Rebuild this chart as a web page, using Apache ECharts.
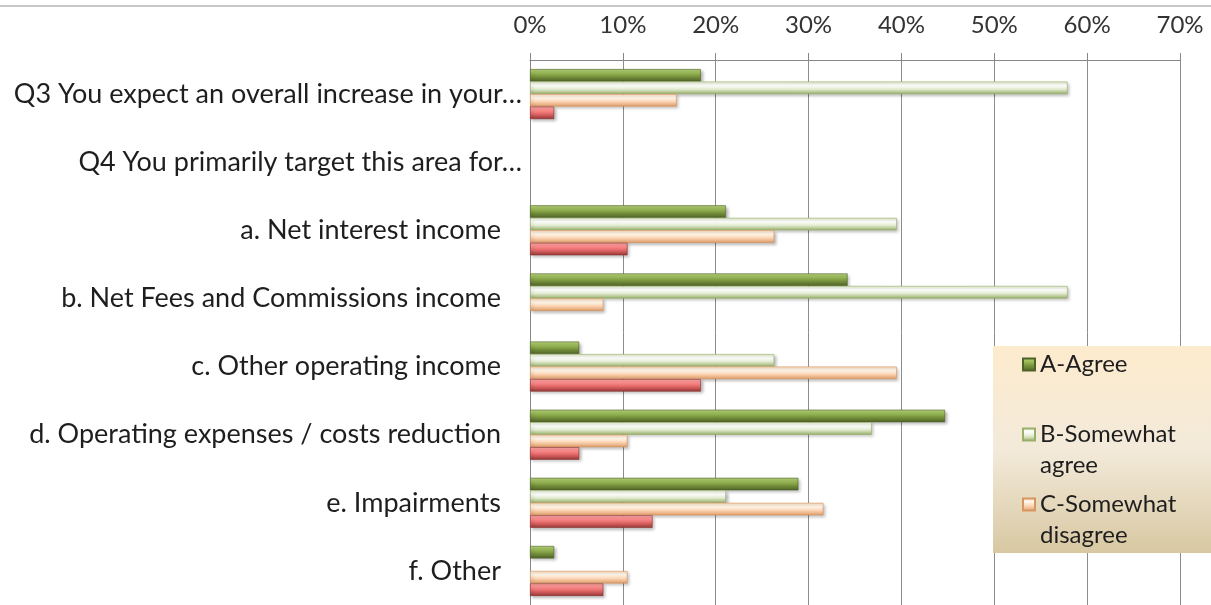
<!DOCTYPE html>
<html lang="en">
<head>
<meta charset="UTF-8">
<title>Survey chart</title>
<script src="https://cdn.jsdelivr.net/npm/echarts@6/dist/echarts.min.js"></script>
<style>
  html, body { margin: 0; padding: 0; background: #fff; }
  #chart { width: 1211px; height: 605px; }
</style>
</head>
<body>
<div id="chart"></div>
<script>
// categories, top to bottom
const categories = [
	'Q3 You expect an overall increase in your…',
	'Q4 You primarily target this area for…',
	'a. Net interest income',
	'b. Net Fees and Commissions income',
	'c. Other operating income',
	'd. Operating expenses / costs reduction',
	'e. Impairments',
	'f. Other'
]
const seriesNames = ['A-Agree', 'B-Somewhat agree', 'C-Somewhat disagree', 'D-Disagree']
// values in %
const agree = [18.4, null, 21.1, 34.2, 5.3, 44.7, 28.9, 2.6]
const somewhatAgree = [57.9, null, 39.5, 57.9, 26.3, 36.8, 21.1, null]
const somewhatDisagree = [15.8, null, 26.3, 7.9, 39.5, 10.5, 31.6, 10.5]
const disagree = [2.6, null, 10.5, null, 18.4, 5.3, 13.2, 7.9]
const ticks = [0, 10, 20, 30, 40, 50, 60, 70]

// 3D-ish bar gradient (light top edge, dark bottom)
function bevel(c0, c1, c2, c3) {
	return new echarts.graphic.LinearGradient(0, 0, 0, 1, [
		{ offset: 0, color: c0 },
		{ offset: 0.3, color: c1 },
		{ offset: 0.6, color: c2 },
		{ offset: 1, color: c3 }
	])
}
const styles = [
	bevel('#b8d27c', '#9bbb59', '#77933c', '#4f6228'),
	bevel('#dfe9cb', '#ffffff', '#e3ecd2', '#97ae69'),
	bevel('#f8d9bb', '#fff8ec', '#fcd5b5', '#dc9a66'),
	bevel('#f4a3a2', '#ff8c8c', '#e06666', '#953735')
]
const borders = ['#4f6228', '#98b068', '#d89560', '#8c3331']
const lists = [agree, somewhatAgree, somewhatDisagree, disagree]

const font = 'Lato, "Open Sans", sans-serif'
const chart = echarts.init(document.getElementById('chart'))

// each legend entry gets blank lines so the icon sits on its first text line,
// items then overlap through a negative gap (box is drawn separately)
function legendLabel(n) {
	if (n.indexOf(' ') < 0) return '\n' + n + '\n'
	return '\n' + n.replace(' ', '\n')
}

chart.setOption({
	animation: false,
	textStyle: { fontFamily: font },
	grid: { left: 530, right: 31, top: 60, bottom: -2, containLabel: false },
	graphic: [{
		type: 'line',
		shape: { x1: 0, y1: 6, x2: 1211, y2: 6 },
		style: { stroke: '#c8c8c8', lineWidth: 2 }
	}, {
		// legend box
		type: 'rect',
		z: 1,
		shape: { x: 993, y: 346, width: 230, height: 207 },
		style: {
			fill: new echarts.graphic.LinearGradient(0, 0, 0, 1, [
				{ offset: 0, color: '#fdebcd' },
				{ offset: 0.5, color: '#f3eada' },
				{ offset: 1, color: '#d8c8a2' }
			])
		}
	}],
	xAxis: {
		type: 'value',
		position: 'top',
		min: ticks[0],
		max: ticks[ticks.length - 1],
		interval: 10,
		axisLine: { show: true, lineStyle: { color: '#868686', width: 1 } },
		axisTick: { show: true, length: 7, lineStyle: { color: '#868686' } },
		axisLabel: { formatter: '{value}%', fontSize: 24, color: '#333', margin: 23, fontFamily: font },
		splitLine: { show: true, lineStyle: { color: '#8c8c8c', width: 1 } }
	},
	yAxis: {
		type: 'category',
		inverse: true,
		data: categories,
		axisLine: { show: true, lineStyle: { color: '#868686' } },
		axisTick: { show: false },
		axisLabel: {
			margin: 8,
			fontSize: 27,
			color: '#1e1e1e',
			fontFamily: font,
			formatter: v => v.charAt(0) === 'Q' ? v : '{p|' + v + '}',
			rich: { p: { fontSize: 27, color: '#1e1e1e', fontFamily: font, padding: [0, 21, 0, 0] } }
		}
	},
	legend: {
		orient: 'vertical',
		left: 1022,
		top: 318,
		z: 5,
		data: seriesNames.slice(0, 3),
		icon: 'rect',
		itemWidth: 12,
		itemHeight: 12,
		itemGap: -23,
		padding: 0,
		formatter: legendLabel,
		textStyle: { fontSize: 24, lineHeight: 31, color: '#1e1e1e', fontFamily: font }
	},
	series: lists.map((d, i) => ({
		name: seriesNames[i],
		type: 'bar',
		data: d,
		barWidth: 12.5,
		barGap: '0%',
		itemStyle: {
			color: styles[i],
			borderColor: borders[i],
			borderWidth: 0.6,
			shadowColor: 'rgba(0,0,0,0.28)',
			shadowBlur: 3,
			shadowOffsetX: 2,
			shadowOffsetY: 2
		}
	}))
})
</script>
</body>
</html>
